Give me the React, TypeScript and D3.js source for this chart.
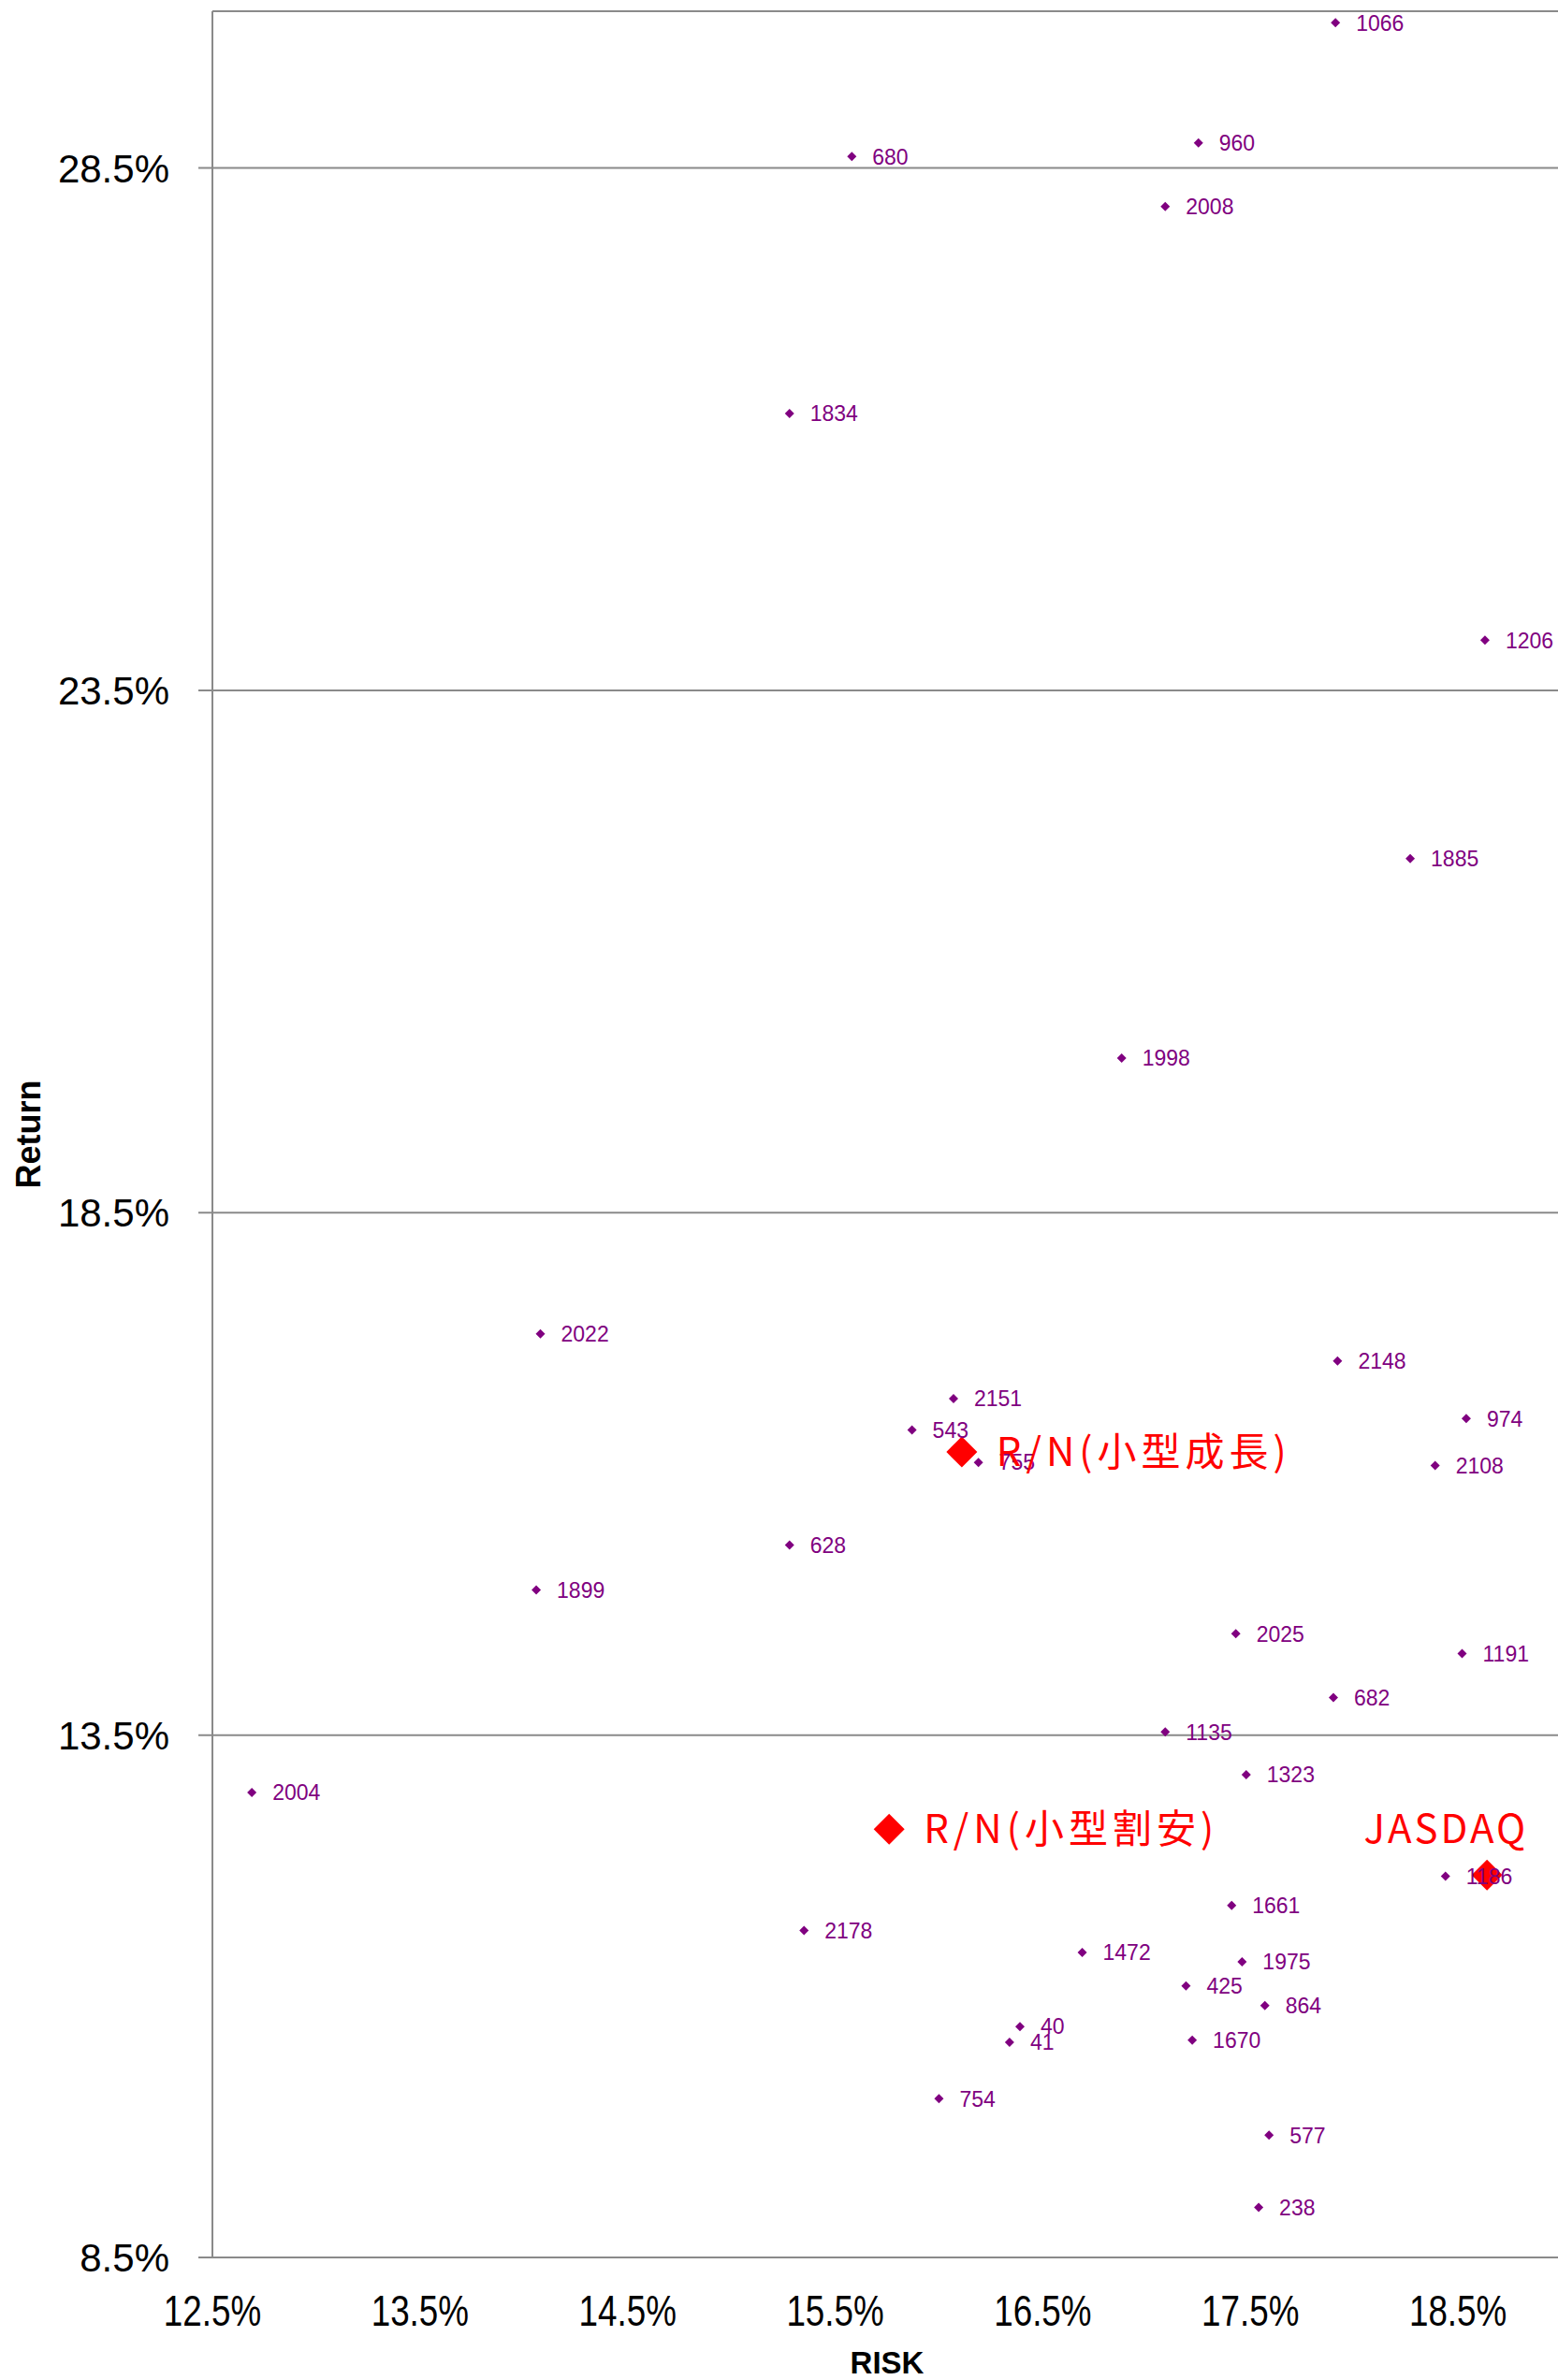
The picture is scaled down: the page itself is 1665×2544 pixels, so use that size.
import React from 'react';
import * as d3 from 'd3';

// stock codes and their risk / return (%)
const codes = ['1066', '960', '680', '2008', '1834', '1206', '1885', '1998', '2022', '2148', '2151', '543', '974', '755', '2108', '628', '1899', '2025', '1191', '682', '1135', '1323', '2004', '1186', '1661', '2178', '1472', '1975', '425', '864', '40', '41', '1670', '754', '577', '238'];
const risk = [17.91, 17.25, 15.58, 17.09, 15.28, 18.63, 18.27, 16.88, 14.08, 17.92, 16.07, 15.87, 18.54, 16.19, 18.39, 15.28, 14.06, 17.43, 18.52, 17.9, 17.09, 17.48, 12.69, 18.44, 17.41, 15.35, 16.69, 17.46, 17.19, 17.57, 16.39, 16.34, 17.22, 16.0, 17.59, 17.54];
const ret = [29.89, 28.74, 28.61, 28.13, 26.15, 23.98, 21.89, 19.98, 17.34, 17.08, 16.72, 16.42, 16.53, 16.11, 16.08, 15.32, 14.89, 14.47, 14.28, 13.86, 13.53, 13.12, 12.95, 12.15, 11.87, 11.63, 11.42, 11.33, 11.1, 10.91, 10.71, 10.56, 10.58, 10.02, 9.67, 8.98];

// highlighted funds / index
const fundNames = ['R/N(小型成長)', 'R/N(小型割安)', 'JASDAQ'];
const fundRisk = [16.11, 15.76, 18.64];
const fundRet = [16.21, 12.6, 12.16];

const xTicks = [12.5, 13.5, 14.5, 15.5, 16.5, 17.5, 18.5];
const yTicks = [8.5, 13.5, 18.5, 23.5, 28.5];

const width = 1665;
const height = 2544;
const left = 227;
const top = 12;
const bottom = 2413;

const diamond = {
  draw(ctx: any, size: number) {
    const r = Math.sqrt(size / 2);
    ctx.moveTo(0, -r);
    ctx.lineTo(r, 0);
    ctx.lineTo(0, r);
    ctx.lineTo(-r, 0);
    ctx.closePath();
  },
};

export default function App() {
  const x = d3.scaleLinear().domain([12.5, 19]).range([left, 1669]);
  const y = d3.scaleLinear().domain([8.5, 30]).range([bottom, top]);

  const small = d3.symbol(diamond as any, 50)() as string;
  const big = d3.symbol(diamond as any, 2 * 16.5 * 16.5)() as string;

  const grid = '#8a8a8a';
  const purple = '#800080';
  const red = '#ff0000';

  return (
    <svg width={width} height={height} style={{ position: 'absolute', left: 0, top: 0, background: '#fff' }}>
      {/* gridlines + y ticks */}
      {yTicks.map((t) => (
        <g key={t}>
          <line x1={left - 15} x2={width} y1={y(t)} y2={y(t)} stroke={grid} strokeWidth={2} />
          <text x={181} y={y(t)} dy="0.36em" textAnchor="end" fontFamily="'Liberation Sans', Arial, sans-serif" fontSize={42} fill="#000">
            {t.toFixed(1)}%
          </text>
        </g>
      ))}
      <line x1={left} x2={width} y1={top} y2={top} stroke={grid} strokeWidth={2} />
      <line x1={left} x2={left} y1={top} y2={bottom} stroke={grid} strokeWidth={2} />

      {/* x tick labels: condensed look */}
      {xTicks.map((t) => (
        <text key={t} transform={`translate(${x(t)},2486) scale(0.8,1)`} textAnchor="middle" fontFamily="'Liberation Sans', Arial, sans-serif" fontSize={46} fill="#000">
          {t.toFixed(1)}%
        </text>
      ))}

      <text x={(left + 1669) / 2} y={2537} textAnchor="middle" fontFamily="'Liberation Sans', Arial, sans-serif" fontWeight="bold" fontSize={33} fill="#000">
        RISK
      </text>
      <text transform={`translate(43,${(top + bottom) / 2}) rotate(-90)`} textAnchor="middle" fontFamily="'Liberation Sans', Arial, sans-serif" fontWeight="bold" fontSize={36} fill="#000">
        Return
      </text>

      {/* stock markers */}
      {codes.map((c, i) => (
        <path key={'m' + c} d={small} transform={`translate(${x(risk[i])},${y(ret[i])})`} fill={purple} />
      ))}
      {/* fund markers */}
      {fundNames.map((n, i) => (
        <path key={'f' + n} d={big} transform={`translate(${x(fundRisk[i])},${y(fundRet[i])})`} fill={red} />
      ))}
      {/* stock labels */}
      {codes.map((c, i) => (
        <text key={'l' + c} x={x(risk[i]) + 22} y={y(ret[i])} dy="0.36em" fontFamily="'Liberation Sans', Arial, sans-serif" fontSize={23} fill={purple}>
          {c}
        </text>
      ))}
      {/* fund labels */}
      {fundNames.map((n, i) => {
        const isIndex = n === 'JASDAQ';
        return (
          <text
            key={'fl' + n}
            x={x(fundRisk[i]) + (isIndex ? 44 : 37)}
            y={y(fundRet[i]) + (isIndex ? -34 : 0)}
            dy={isIndex ? 0 : '0.36em'}
            textAnchor={isIndex ? 'end' : 'start'}
            fontFamily="'Noto Sans CJK JP', sans-serif"
            fontSize={42}
            letterSpacing={isIndex ? 3 : 5}
            fill={red}
          >
            {n}
          </text>
        );
      })}
    </svg>
  );
}
